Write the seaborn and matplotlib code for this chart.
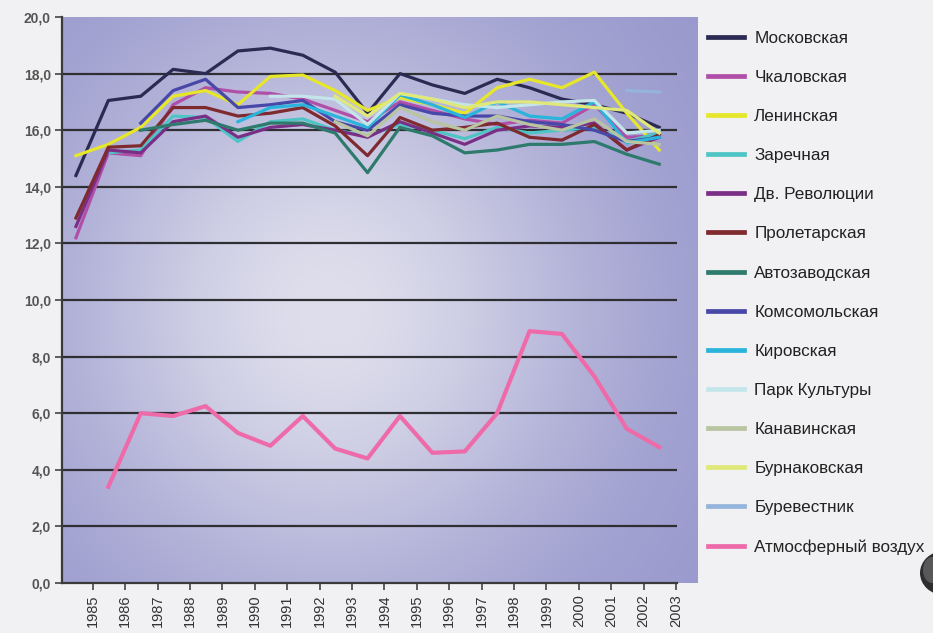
import numpy as np
import pandas as pd
import matplotlib
matplotlib.use("Agg")
import matplotlib.pyplot as plt
import seaborn as sns
from matplotlib.lines import Line2D
from matplotlib.patches import Ellipse

# ---- data -------------------------------------------------------------
years = list(range(1985, 2004))
nan = np.nan

moskovskaya = [14.4, 17.05, 17.2, 18.15, 18.0, 18.8, 18.9, 18.65, 18.05, 16.6,
               18.0, 17.6, 17.3, 17.8, 17.5, 17.1, 16.9, 16.6, 16.1]
chkalovskaya = [12.2, 15.2, 15.1, 16.9, 17.5, 17.35, 17.3, 17.1, 16.7, 16.3,
                17.0, 16.7, 16.4, 16.2, 16.35, 16.25, 16.9, 15.75, 15.8]
leninskaya = [15.1, 15.5, 16.1, 17.2, 17.4, 16.9, 17.9, 17.95, 17.4, 16.7,
              17.15, 16.9, 16.6, 17.5, 17.8, 17.5, 18.05, 16.6, 15.3]
zarechnaya = [nan, 15.2, 15.3, 16.5, 16.45, 15.6, 16.3, 16.4, 16.0, 15.8,
              16.2, 16.0, 15.7, 16.1, 15.9, 16.0, 16.1, 15.6, 15.9]
dv_revolyutsii = [12.6, 15.3, 15.2, 16.3, 16.5, 15.75, 16.1, 16.2, 16.0, 15.75,
                  16.3, 15.9, 15.5, 16.0, 16.15, 16.1, 16.25, 15.3, 15.75]
proletarskaya = [12.9, 15.4, 15.45, 16.8, 16.8, 16.5, 16.6, 16.8, 16.15, 15.1,
                 16.45, 16.0, 16.1, 16.25, 15.75, 15.65, 16.2, 15.3, 15.85]
avtozavodskaya = [nan, nan, 16.0, 16.2, 16.35, 16.0, 16.25, 16.25, 15.9, 14.5,
                  16.1, 15.8, 15.2, 15.3, 15.5, 15.5, 15.6, 15.15, 14.8]
komsomolskaya = [nan, nan, 16.25, 17.4, 17.8, 16.8, 16.9, 17.05, 16.3, 16.0,
                 16.9, 16.6, 16.5, 16.5, 16.3, 16.2, 16.0, 15.6, 15.75]
kirovskaya = [nan, nan, nan, nan, nan, 16.3, 16.8, 16.9, 16.5, 16.1,
              17.25, 16.9, 16.45, 17.0, 16.5, 16.4, 17.0, 15.55, 15.75]
park_kultury = [nan, nan, nan, nan, nan, nan, 17.2, 17.2, 17.1, 16.2,
                17.3, 17.1, 16.9, 16.8, 16.9, 17.0, 17.05, 15.9, 16.0]
kanavinskaya = [nan, nan, nan, nan, nan, nan, nan, nan, 16.3, 15.8,
                16.8, 16.3, 16.0, 16.5, 16.2, 16.0, 16.4, 15.6, 15.5]
burnakovskaya = [nan, nan, nan, nan, nan, nan, nan, nan, 17.2, 16.5,
                 17.3, 17.1, 16.8, 17.0, 17.0, 16.9, 16.8, 16.7, 15.9]
burevestnik = [nan] * 17 + [17.4, 17.35]
atm_vozduh = [nan, 3.4, 6.0, 5.9, 6.25, 5.3, 4.85, 5.9, 4.75, 4.4,
              5.9, 4.6, 4.65, 6.0, 8.9, 8.8, 7.3, 5.45, 4.8]

station_names = ["Московская", "Чкаловская", "Ленинская", "Заречная",
                 "Дв. Революции", "Пролетарская", "Автозаводская",
                 "Комсомольская", "Кировская", "Парк Культуры",
                 "Канавинская", "Бурнаковская", "Буревестник",
                 "Атмосферный воздух"]
station_values = [moskovskaya, chkalovskaya, leninskaya, zarechnaya,
                  dv_revolyutsii, proletarskaya, avtozavodskaya,
                  komsomolskaya, kirovskaya, park_kultury, kanavinskaya,
                  burnakovskaya, burevestnik, atm_vozduh]
station_colors = ["#2b2a52", "#b04fa8", "#e6e62a", "#4fc4c4", "#7b2e86",
                  "#7e2a2e", "#2e7a6c", "#4848a8", "#2ab4dc", "#c4e6ea",
                  "#b9c4a0", "#dfe878", "#94b4dc", "#ee6aa8"]
y_ticks = [0, 2, 4, 6, 8, 10, 12, 14, 16, 18, 20]

rows = []
for name, vals in zip(station_names, station_values):
    for i, v in enumerate(vals):
        if not np.isnan(v):
            rows.append({"pos": i, "value": v, "station": name})
df = pd.DataFrame(rows)
palette = dict(zip(station_names, station_colors))

# ---- figure -----------------------------------------------------------
plt.rcParams["font.family"] = ["Liberation Sans", "DejaVu Sans"]
W, H = 933, 633
fig = plt.figure(figsize=(W / 100, H / 100), dpi=100)
fig.patch.set_facecolor("#f1f1f3")


def fx(px):
    return px / W


def fy(py):
    return 1 - py / H


# shaded plot panel with a soft light glow in the middle
bg = fig.add_axes([fx(62), fy(583), fx(698) - fx(62), fy(17) - fy(583)])
gh, gw = 300, 340
yy, xx = np.mgrid[0:1:gh * 1j, 0:1:gw * 1j]
glow = np.exp(-(((xx - 0.42) / 0.42) ** 2 + ((yy - 0.52) / 0.50) ** 2))
base = np.array([150, 150, 204]) / 255
light = np.array([222, 222, 236]) / 255
img = base[None, None, :] + glow[..., None] * (light - base)[None, None, :]
bg.imshow(img, aspect="auto", extent=[0, 1, 0, 1], interpolation="bilinear")
bg.axis("off")

ax = fig.add_axes([fx(62), fy(583), fx(677) - fx(62), fy(17) - fy(583)])
ax.patch.set_alpha(0)

for v in y_ticks[1:-1]:
    ax.axhline(v, color="#2e2e33", lw=1.6, zorder=1)

sns.lineplot(data=df, x="pos", y="value", hue="station",
             hue_order=station_names, palette=palette, linewidth=2.3,
             estimator=None, sort=False, legend=False, ax=ax, zorder=3)
for line in ax.get_lines():
    if matplotlib.colors.to_hex(line.get_color()) == station_colors[-1]:
        line.set_linewidth(3.0)

ax.set_xlim(-0.43, 18.55)
ax.set_ylim(0, 20)
ax.set_xticks(np.arange(len(years)) + 0.52)
ax.set_xticklabels([str(y) for y in years], rotation=90, fontsize=10.5,
                   color="#333333")
ax.set_yticks(y_ticks)
ax.set_yticklabels([f"{v:.1f}".replace(".", ",") for v in y_ticks],
                   fontsize=10, fontweight="bold", color="#555555")
ax.set_xlabel("")
ax.set_ylabel("")
for side in ("top", "right"):
    ax.spines[side].set_visible(False)
for side in ("left", "bottom"):
    ax.spines[side].set_color("#3a3a3a")
    ax.spines[side].set_linewidth(1.6)
ax.tick_params(direction="out", length=5, width=1.2, color="#444444", pad=3)

handles = [Line2D([0], [0], color=c, lw=3.4) for c in station_colors]
fig.legend(handles, station_names, loc="upper left",
           bbox_to_anchor=(fx(708), fy(31)), frameon=False, fontsize=12.3,
           handlelength=2.1, handletextpad=0.6, labelspacing=1.41,
           borderpad=0, borderaxespad=0, labelcolor="#222222")

# small shaded ball in the lower right corner
fig.add_artist(Ellipse((fx(944), fy(573)), 48 / W, 44 / H,
                       transform=fig.transFigure, facecolor="#2e2e2e",
                       edgecolor="none"))
fig.add_artist(Ellipse((fx(932), fy(570)), 18 / W, 26 / H,
                       transform=fig.transFigure, facecolor="#6a6a6a",
                       edgecolor="none", alpha=0.7))

fig.savefig("out.png", dpi=100, facecolor=fig.get_facecolor())
